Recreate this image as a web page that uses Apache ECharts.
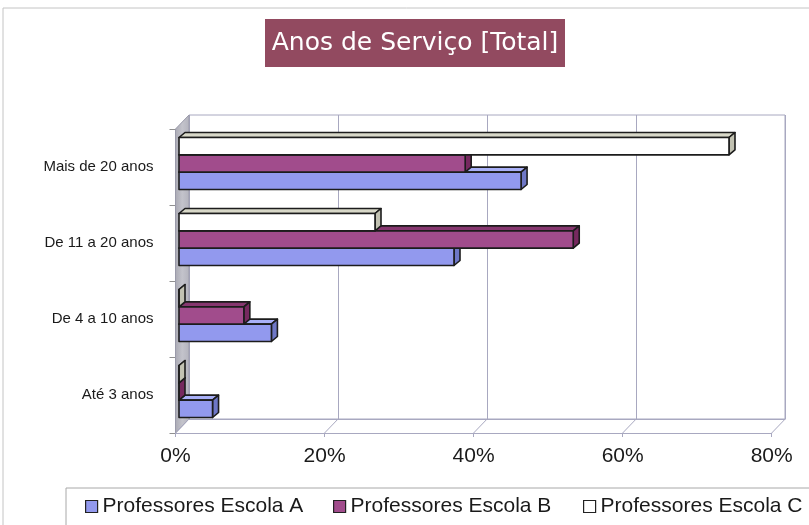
<!DOCTYPE html>
<html>
<head>
<meta charset="utf-8">
<script src="https://cdn.jsdelivr.net/npm/echarts@6/dist/echarts.min.js"></script>
<style>html,body{margin:0;padding:0;background:#fff}#c{width:809px;height:525px}</style>
</head>
<body>
<div id="c"></div>
<script>
const categories = ['Até 3 anos', 'De 4 a 10 anos', 'De 11 a 20 anos', 'Mais de 20 anos'];
const seriesNames = ['Professores Escola A', 'Professores Escola B', 'Professores Escola C'];
const escolaA = [4.5, 12.4, 36.9, 45.9];
const escolaB = [0, 8.7, 52.9, 38.4];
const escolaC = [0, 0, 26.3, 73.8];
const xTicks = [0, 20, 40, 60, 80];
const titleText = 'Anos de Serviço [Total]';

const palette = [
  {front: '#9299ee', top: '#a9b0f7', side: '#6e77c6'},
  {front: '#a14c8c', top: '#86376f', side: '#76295f'},
  {front: '#ffffff', top: '#d8d8c8', side: '#c2c2b2'}
];
const STROKE = '#1c1c1c';
const DEPTH_X = 13.5, DEPTH_Y = 14;
const legendLefts = [85, 333, 583];

function barRenderer(k) {
  const col = palette[k];
  return function (params, api) {
    const v = api.value(0), ci = api.value(1);
    const p0 = api.coord([0, ci]);
    const p1 = api.coord([v, ci]);
    const band = api.size([0, 1])[1];
    const bh = band * 0.228;
    const cy = p0[1] - 3.5;
    const x0 = p0[0] + 3.5, x1 = p1[0] + 3.5;
    const slot = 2 - k;
    const top = cy - 1.5 * bh + slot * bh;
    const bot = top + bh;
    const dx = 6, dy = 5;
    const st = {stroke: STROKE, lineWidth: 1.6, lineJoin: 'round'};
    return {
      type: 'group',
      children: [
        {type: 'polygon', shape: {points: [[x0, top], [x0 + dx, top - dy], [x1 + dx, top - dy], [x1, top]]},
          style: Object.assign({fill: col.top}, st)},
        {type: 'polygon', shape: {points: [[x1, top], [x1 + dx, top - dy], [x1 + dx, bot - dy], [x1, bot]]},
          style: Object.assign({fill: col.side}, st)},
        {type: 'rect', shape: {x: x0, y: top, width: Math.max(0, x1 - x0), height: bh},
          style: Object.assign({fill: col.front}, st)}
      ]
    };
  };
}

function frameRenderer(params, api) {
  const cs = params.coordSys;
  const v = api.value(0);
  const x = api.coord([v, 0])[0];
  const yb = cs.y + cs.height;
  const children = [
    {type: 'line', shape: {x1: x, y1: yb, x2: x + DEPTH_X, y2: yb - DEPTH_Y},
      style: {stroke: '#a8a8c0', lineWidth: 1}}
  ];
  if (params.dataIndex === 0) {
    children.unshift({
      type: 'polygon',
      shape: {points: [[cs.x, yb], [cs.x, cs.y], [cs.x + DEPTH_X, cs.y - DEPTH_Y], [cs.x + DEPTH_X, yb - DEPTH_Y]]},
      style: {
        fill: new echarts.graphic.LinearGradient(0, 0, 1, 0, [
          {offset: 0, color: '#a9a9b3'}, {offset: 0.5, color: '#c3c3cb'}, {offset: 1, color: '#b3b3bd'}
        ]),
        stroke: '#9a9aaa', lineWidth: 1
      }
    });
  }
  return {type: 'group', children: children};
}

const chart = echarts.init(document.getElementById('c'), null, {renderer: 'canvas'});
const allValues = [escolaA, escolaB, escolaC];

chart.setOption({
  animation: false,
  backgroundColor: '#ffffff',
  graphic: [
    {type: 'rect', z: -10, shape: {x: 3, y: 8, width: 830, height: 540}, style: {fill: 'none', stroke: '#c4c4c4', lineWidth: 1}},
    {type: 'rect', z: -10, shape: {x: 66, y: 488, width: 780, height: 60}, style: {fill: 'none', stroke: '#a8a8a8', lineWidth: 1}},
    {type: 'rect', shape: {x: 265, y: 19, width: 300, height: 48}, style: {fill: '#924a60'}},
    {type: 'text', x: 415, y: 43, style: {text: titleText, fill: '#ffffff', font: '25px "DejaVu Sans"', align: 'center', verticalAlign: 'middle'}}
  ],
  legend: seriesNames.map((name, k) => ({
    data: [name],
    left: legendLefts[k], top: 496, padding: 0,
    icon: 'rect', itemWidth: 12, itemHeight: 12,
    itemStyle: {borderColor: '#222', borderWidth: 1.2},
    textStyle: {fontFamily: 'Liberation Sans, Arial', fontSize: 21, color: '#1a1a1a'}
  })),
  grid: [
    {left: 175.5, right: 37.3, top: 129, bottom: 92},
    {left: 189, right: 24, top: 115, bottom: 106, show: true, borderColor: '#a8a8c0', borderWidth: 1, backgroundColor: 'transparent'}
  ],
  xAxis: [
    {gridIndex: 0, type: 'value', min: 0, max: 80, interval: 20,
      axisLine: {show: true, lineStyle: {color: '#a8a8c0', width: 1}},
      axisTick: {show: true, length: 4, lineStyle: {color: '#a8a8c0'}},
      splitLine: {show: false},
      axisLabel: {formatter: '{value}%', fontFamily: 'Liberation Sans, Arial', fontSize: 21, color: '#1a1a1a', margin: 13}},
    {gridIndex: 1, type: 'value', min: 0, max: 80, interval: 20,
      axisLine: {show: true, lineStyle: {color: '#a8a8c0', width: 1}},
      axisTick: {show: false}, axisLabel: {show: false},
      splitLine: {show: true, lineStyle: {color: '#a8a8c0', width: 1}}}
  ],
  yAxis: [
    {gridIndex: 0, type: 'category', data: categories,
      axisLine: {show: false},
      axisTick: {show: true, length: 6, lineStyle: {color: '#909090'}},
      axisLabel: {fontFamily: 'Liberation Sans, Arial', fontSize: 15, color: '#1a1a1a', margin: 22}},
    {gridIndex: 1, type: 'category', data: categories, show: false}
  ],
  series: [
    {type: 'custom', name: 'frame', xAxisIndex: 0, yAxisIndex: 0, silent: true, z: 1,
      data: xTicks.map(v => [v, 0]), renderItem: frameRenderer, encode: {x: 0, y: 1}}
  ].concat(seriesNames.map((name, k) => ({
    type: 'custom', name: name, xAxisIndex: 0, yAxisIndex: 0, z: 3 + k,
    itemStyle: {color: palette[k].front, borderColor: '#222', borderWidth: 1.2},
    data: allValues[k].map((v, i) => [v, i]),
    encode: {x: 0, y: 1},
    renderItem: barRenderer(k)
  })))
});
</script>
</body>
</html>
